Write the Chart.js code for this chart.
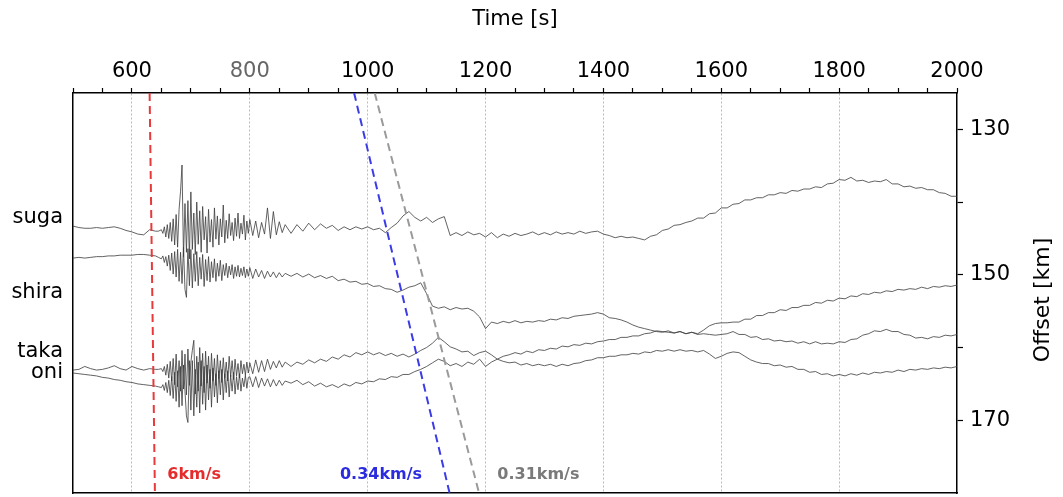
<!DOCTYPE html>
<html>
<head>
<meta charset="utf-8">
<script src="https://cdn.jsdelivr.net/npm/chart.js@4.4.0/dist/chart.umd.min.js"></script>
<style>
  body { margin: 0; background: #fff; }
  canvas { display: block; }
</style>
</head>
<body>
<canvas id="chart" width="1063" height="497"></canvas>
<script>
// sample times [s]
const times = [
  500,510,520,530,540,550,560,570,580,590,600,610,620,630,640,
  645,
  650,652.5,655,657.5,660,662.5,665,667.5,670,672.5,
  675,677.5,680,682.5,685,687.5,690,692.5,695,697.5,
  700,702.5,705,707.5,710,712.5,715,717.5,720,722.5,
  725,727.5,730,732.5,735,737.5,740,742.5,745,747.5,
  750,752.5,755,757.5,760,762.5,765,767.5,770,772.5,
  775,777.5,780,782.5,785,787.5,790,792.5,795,797.5,
  800,
  805,810,815,820,825,830,835,840,845,850,855,860,
  870,880,890,900,910,920,930,940,950,960,
  970,980,990,1000,1010,1020,1030,1040,1050,1060,
  1070,1080,1090,1100,1110,1120,1130,1140,1150,1160,
  1170,1180,1190,1200,1210,1220,1230,1240,1250,1260,
  1270,1280,1290,1300,1310,1320,1330,1340,1350,1360,
  1370,1380,1390,1400,1410,1420,1430,1440,1450,1460,
  1470,1480,1490,1500,1510,1520,1530,1540,1550,1560,
  1570,1580,1590,1600,1610,1620,1630,1640,1650,1660,
  1670,1680,1690,1700,1710,1720,1730,1740,1750,1760,
  1770,1780,1790,1800,1810,1820,1830,1840,1850,1860,
  1870,1880,1890,1900,1910,1920,1930,1940,1950,1960,
  1970,1980,1990,2000
];

// traces, plotted at offset [km]
const suga = [
  143.3,143.5,143.6,143.6,143.5,143.6,143.5,143.4,143.6,143.9,144.1,144.4,144.5,143.8,144.0,
  144.0,
  143.8,144.3,143.4,144.8,143.1,145.0,142.8,145.4,142.3,145.9,
  141.7,146.2,141.0,138.5,134.9,147.5,140.2,146.9,139.8,147.8,
  138.6,146.5,141.5,147.2,140.0,145.8,141.2,146.9,140.6,145.2,
  142.0,147.0,141.0,145.5,142.4,146.2,140.8,145.1,141.9,145.9,
  142.3,144.8,140.4,145.6,142.5,145.0,141.6,144.6,142.8,145.3,
  142.2,144.7,141.5,145.0,142.9,144.4,141.8,145.2,142.6,144.3,
  142.4,
  144.6,142.6,144.9,142.8,144.4,140.8,145.0,141.3,144.5,142.7,144.2,143.1,
  144.3,143.1,144.0,142.9,143.8,143.0,143.6,143.2,143.9,143.4,
  143.8,143.4,143.7,143.4,143.8,143.6,144.2,143.5,142.9,141.9,
  141.3,142.1,142.6,142.1,142.8,142.3,142.0,144.6,144.2,144.6,
  144.1,144.5,144.3,144.8,144.2,144.9,144.4,144.7,144.3,144.6,
  144.4,144.1,144.5,144.2,144.5,144.1,144.4,144.2,144.4,144.0,
  144.3,144.1,144.0,144.4,144.6,144.9,144.7,144.9,144.8,145.0,
  145.2,144.7,144.5,143.9,143.7,143.2,143.1,142.8,142.6,142.2,
  142.2,141.6,141.5,140.8,140.8,140.3,140.2,139.7,139.7,139.4,
  139.4,139.0,139.0,138.7,138.8,138.4,138.5,138.2,138.2,137.9,
  138.0,137.5,137.4,136.9,137.0,136.6,137.1,137.0,137.3,137.1,
  137.2,136.9,137.5,137.5,137.9,137.8,138.1,138.0,138.3,138.3,
  138.7,138.8,139.2,139.2
];
const shira = [
  147.7,147.6,147.7,147.6,147.5,147.5,147.4,147.4,147.3,147.3,147.3,147.2,147.2,147.3,147.4,
  147.6,
  147.8,147.4,148.3,147.5,148.8,147.3,149.4,147.0,149.9,146.8,
  150.3,146.5,150.9,146.9,151.2,146.2,152.0,153.1,146.4,151.5,
  146.5,151.8,147.1,150.9,146.8,151.5,147.6,150.6,147.2,151.6,
  147.9,150.8,147.5,151.0,148.2,150.4,147.8,150.9,148.4,150.2,
  148.0,150.8,148.6,150.1,148.4,150.4,148.8,150.0,148.6,150.5,
  148.9,150.2,148.7,150.3,149.1,150.1,148.9,150.4,149.2,150.2,
  149.0,
  150.5,149.2,150.3,149.4,150.5,149.5,150.3,149.6,150.4,149.7,150.3,149.8,
  150.2,149.8,150.3,149.9,150.4,150.1,150.5,150.2,150.8,150.6,
  151.0,150.9,151.3,151.2,151.6,151.5,151.9,152.0,152.4,152.1,
  151.7,151.5,151.1,152.6,154.3,154.6,154.4,154.8,154.5,154.7,
  154.6,155.0,155.8,157.4,156.5,156.7,156.4,156.6,156.3,156.6,
  156.4,156.5,156.3,156.4,156.1,156.2,155.9,156.0,155.7,155.6,
  155.5,155.4,155.2,155.4,155.9,156.0,156.2,156.5,156.9,157.2,
  157.4,157.6,157.8,157.9,157.7,158.0,157.8,158.1,157.9,158.1,
  157.6,157.0,156.7,156.6,156.6,156.5,156.5,156.1,156.1,155.6,
  155.6,155.2,155.2,154.8,154.9,154.5,154.5,154.2,154.2,153.8,
  153.9,153.5,153.6,153.2,153.3,152.9,153.0,152.6,152.7,152.4,
  152.5,152.2,152.3,152.0,152.1,151.9,152.0,151.7,151.9,151.6,
  151.7,151.5,151.6,151.4
];
const taka = [
  163.1,163.0,162.6,162.9,163.1,163.0,162.8,162.5,162.9,163.1,162.6,162.9,163.1,162.9,163.0,
  163.0,
  162.9,163.3,162.6,163.8,162.3,164.2,161.9,164.6,161.5,165.1,
  160.9,165.4,161.8,166.0,160.4,165.7,160.9,166.5,160.2,165.2,
  162.0,160.4,159.0,166.4,161.2,166.0,160.0,165.3,160.8,166.2,
  160.5,164.9,161.2,165.6,160.8,164.6,161.5,165.2,161.0,164.3,
  161.8,164.8,161.4,164.2,162.0,164.6,161.2,164.0,161.8,164.4,
  161.6,163.9,162.2,164.2,161.8,163.6,162.3,163.8,162.0,163.5,
  162.1,
  163.6,161.7,163.4,161.8,163.3,161.6,163.0,161.9,162.8,161.8,162.7,162.0,
  162.6,162.0,162.3,161.7,162.1,161.6,161.9,161.3,161.6,161.0,
  161.3,160.7,161.0,160.6,161.0,160.7,161.1,160.8,161.2,160.9,
  161.3,160.9,160.4,160.0,159.4,158.6,159.2,159.9,160.2,160.6,
  160.5,161.1,160.7,160.5,161.0,161.6,161.2,161.0,160.7,160.9,
  160.5,160.7,160.3,160.4,160.1,160.2,159.8,159.9,159.6,159.7,
  159.4,159.5,159.2,159.1,158.9,158.9,158.6,158.6,158.4,158.4,
  158.1,158.0,157.7,157.8,157.9,158.0,157.8,158.1,157.9,158.2,
  158.1,158.2,158.3,158.2,158.1,157.8,158.2,158.2,158.6,158.5,
  158.9,158.8,159.1,159.0,159.2,159.1,159.4,159.2,159.5,159.2,
  159.5,159.4,159.5,159.2,159.3,158.9,158.8,158.3,158.1,157.7,
  157.8,157.5,157.8,157.8,158.2,158.3,158.7,158.6,158.8,158.5,
  158.6,158.3,158.4,158.2
];
const oni = [
  163.5,163.6,163.7,163.8,163.9,164.1,164.2,164.4,164.5,164.7,164.8,165.0,165.1,165.2,165.3,
  165.4,
  165.5,165.1,165.9,164.8,166.2,164.5,166.6,164.0,167.0,163.4,
  167.4,163.2,168.2,162.6,168.0,162.4,166.0,169.4,170.3,161.8,
  168.6,161.8,169.4,163.0,168.2,162.0,169.0,161.8,167.8,162.6,
  168.6,162.4,167.2,163.0,168.2,162.8,166.8,163.6,167.6,163.2,
  166.5,163.0,167.2,163.6,166.2,163.2,166.8,163.8,166.0,163.4,
  166.4,164.0,165.8,163.6,166.0,164.2,165.4,163.8,165.6,164.1,
  164.0,
  165.4,164.0,165.5,164.2,165.3,164.3,165.4,164.4,165.3,164.5,165.2,164.6,
  164.9,164.5,165.1,164.7,165.3,164.9,165.4,165.1,165.5,165.0,
  165.3,164.8,165.0,164.6,164.7,164.3,164.4,164.0,164.1,163.7,
  163.7,163.3,163.0,162.6,162.1,161.6,161.9,162.5,162.2,162.6,
  162.0,162.3,161.6,162.6,162.0,161.6,161.9,162.1,162.0,162.4,
  162.2,162.5,162.3,162.5,162.3,162.6,162.3,162.5,162.2,162.1,
  161.8,161.7,161.4,161.4,161.2,161.2,161.0,161.0,160.8,160.9,
  160.6,160.7,160.4,160.5,160.3,160.5,160.3,160.5,160.4,160.6,
  160.4,160.9,161.5,161.2,160.8,160.6,160.7,161.2,161.7,162.0,
  162.2,162.2,162.5,162.4,162.7,162.6,163.0,163.0,163.4,163.3,
  163.7,163.6,163.9,163.7,163.9,163.6,163.8,163.5,163.7,163.4,
  163.5,163.3,163.4,163.1,163.3,163.0,163.1,162.9,163.0,162.8,
  162.9,162.7,162.8,162.6
];

// station names on the left axis
const stations = ['suga', 'shira', 'taka', 'oni'];
const stationKm = [142.1, 152.5, 160.6, 163.5];

// move-out lines, time at top and bottom of the panel
const moveKm = [125, 180];
const redT = [630, 639];
const blueT = [977, 1139];
const grayT = [1012, 1189];
const speedText = ['6km/s', '0.34km/s', '0.31km/s'];
const speedT = [660, 953, 1220];
const speedKm = 178.1;
const speedColors = ['#e52b2b', '#2b2be0', '#7a7a7a'];

const offsetTicks = [130, 140, 150, 160, 170];

function pts(ts, ys) { return ts.map((t, i) => ({x: t, y: ys[i]})); }

const traceStyle = {borderColor: 'rgba(60,60,60,0.8)', borderWidth: 1, pointRadius: 0, tension: 0, order: 2, yAxisID: 'yR'};
const dashStyle = {borderWidth: 2, pointRadius: 0, borderDash: [8, 5], order: 0, yAxisID: 'yR'};

function noPad(s) { s.paddingTop = 0; s.paddingBottom = 0; }

const overlay = {
  id: 'overlay',
  afterDraw(chart) {
    const {ctx, chartArea, scales} = chart;
    ctx.save();
    ctx.fillStyle = '#000';
    ctx.font = '21px "DejaVu Sans"';
    ctx.textAlign = 'center';
    ctx.textBaseline = 'middle';
    ctx.fillText('Time [s]', (chartArea.left + chartArea.right) / 2, 20);
    ctx.translate(1043, 300);
    ctx.rotate(-Math.PI / 2);
    ctx.font = '22px "DejaVu Sans"';
    ctx.fillText('Offset [km]', 0, 0);
    ctx.restore();

    ctx.save();
    ctx.font = 'bold 16px "DejaVu Sans"';
    ctx.textBaseline = 'alphabetic';
    ctx.textAlign = 'left';
    speedText.forEach((s, i) => {
      ctx.fillStyle = speedColors[i];
      ctx.fillText(s, scales.x.getPixelForValue(speedT[i]), scales.yR.getPixelForValue(speedKm));
    });
    ctx.restore();
  }
};

new Chart(document.getElementById('chart'), {
  type: 'line',
  data: {
    datasets: [
      {...dashStyle, data: pts(redT, moveKm), borderColor: '#e83a3a'},
      {...dashStyle, data: pts(blueT, moveKm), borderColor: '#3c3ce6'},
      {...dashStyle, data: pts(grayT, moveKm), borderColor: '#9a9a9a'},
      {...traceStyle, data: pts(times, suga)},
      {...traceStyle, data: pts(times, shira)},
      {...traceStyle, data: pts(times, taka)},
      {...traceStyle, data: pts(times, oni)}
    ]
  },
  options: {
    responsive: false,
    animation: false,
    devicePixelRatio: 1,
    layout: {padding: 0},
    plugins: {legend: {display: false}, tooltip: {enabled: false}},
    scales: {
      x: {
        type: 'linear', position: 'top', min: 500, max: 2000,
        afterFit: s => { s.height = 93; },
        ticks: {
          stepSize: 50, autoSkip: false, maxRotation: 0, padding: 4,
          font: {family: 'DejaVu Sans', size: 21},
          color: c => (c.tick && c.tick.value === 800) ? '#666' : '#000',
          callback: v => (v % 200 === 0 ? String(v) : '')
        },
        grid: {
          color: c => (c.tick && c.tick.value % 200 === 0 && c.tick.value < 2000) ? '#aaa' : 'rgba(0,0,0,0)',
          lineWidth: 0.8, tickColor: '#000', tickWidth: 1.2, tickLength: 5
        },
        border: {display: true, color: '#000', width: 1.5, dash: [2, 2]}
      },
      x2: {
        type: 'linear', position: 'bottom', min: 500, max: 2000,
        afterFit: s => { s.height = 4; },
        ticks: {display: false},
        grid: {display: false},
        border: {display: true, color: '#000', width: 1.5}
      },
      yL: {
        type: 'linear', position: 'left', reverse: true, min: 125, max: 180,
        afterFit: s => { s.width = 73; noPad(s); },
        afterBuildTicks: s => { s.ticks = stationKm.map(v => ({value: v})); },
        ticks: {
          autoSkip: false, padding: 10, color: '#000',
          font: {family: 'DejaVu Sans', size: 21},
          callback: v => stations[stationKm.indexOf(v)]
        },
        grid: {drawOnChartArea: false, drawTicks: false},
        border: {display: true, color: '#000', width: 1.5}
      },
      yR: {
        type: 'linear', position: 'right', reverse: true, min: 125, max: 180,
        afterFit: s => { s.width = 106; noPad(s); },
        afterBuildTicks: s => { s.ticks = offsetTicks.map(v => ({value: v})); },
        ticks: {
          autoSkip: false, padding: 7, color: '#000',
          font: {family: 'DejaVu Sans', size: 21},
          callback: v => (v % 20 === 10 ? String(v) : '')
        },
        grid: {drawOnChartArea: false, tickColor: '#000', tickWidth: 1.2, tickLength: 6},
        border: {display: true, color: '#000', width: 1.5}
      }
    }
  },
  plugins: [overlay]
});
</script>
</body>
</html>
